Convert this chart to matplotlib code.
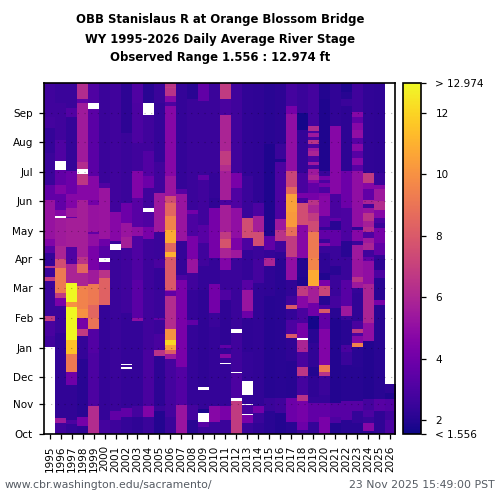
import numpy as np
import matplotlib
matplotlib.use('Agg')
import matplotlib.pyplot as plt

nan = np.nan

years = list(range(1995, 2027))
month_labels = ['Oct', 'Nov', 'Dec', 'Jan', 'Feb', 'Mar', 'Apr', 'May', 'Jun', 'Jul', 'Aug', 'Sep']
month_days = [0, 31, 59, 90, 121, 152, 182, 212, 243, 273, 304, 335]
vmin = 1.556
vmax = 12.974

# Stage by water year: day edges run from the top of the column (366) to Oct 1 (0)
d1995 = [366,331,319,293,260,244,203,196,189,175,173,164,160,123,118,102,91,0]
v1995 = [2.7,2.8,2.4,2.5,3.6,5.2,4.5,3.3,2.4,6.5,2.5,6.8,2.5,6.8,2.9,2.7,nan]
d1996 = [366,345,307,285,275,260,250,234,227,225,196,182,173,147,142,133,105,17,11,0]
v1996 = [2.5,2.7,3.1,nan,3.6,4.5,3.6,4.7,nan,5.5,5.9,7.5,9.2,6.8,4.3,2.5,2.3,5.4,2.7]
d1997 = [366,340,331,274,250,244,236,226,225,195,177,157,138,132,98,83,65,51,15,10,0]
v1997 = [2.5,3.2,2.4,3.9,4.7,4.5,5.4,3.6,5.7,3.1,5.9,13.0,10.0,13.0,11.5,9.2,4.0,2.3,3.0,2.4]
d1998 = [366,349,345,284,276,271,260,244,185,177,168,154,130,121,109,102,77.5,18,8,0]
v1998 = [6.2,3.6,5.5,6.2,nan,6.6,4.7,5.7,6.5,8.5,5.9,9.5,10.0,4.2,6.8,2.4,2.1,4.2,2.25]
d1999 = [366,345,339,269,244,239,211,209,196,171,156,135,121,110,84,29,0]
v1999 = [3.1,nan,3.4,4.7,4.1,5.2,3.6,5.0,4.3,5.5,9.2,8.5,9.0,3.2,3.0,6.2]
d2000 = [366,262,257,203,196,183.5,179,171,163,135,15,0]
v2000 = [2.5,3.1,5.3,3.9,3.3,nan,3.6,6.5,8.3,2.4,2.8]
d2001 = [366,232,201,198,192,24,15,0]
v2001 = [2.7,4.7,2.5,nan,2.5,3.6,2.6]
d2002 = [366,314,241,220,205,194,126,95,73,72,70,68,27,18,0]
v2002 = [2.2,2.5,3.9,5.3,5.7,2.7,2.4,2.4,nan,2.5,nan,2.4,3.6,2.4]
d2003 = [366,345,303,274,246,216.5,206,161,121,118.5,29,18,0]
v2003 = [3.1,3.0,2.7,4.5,3.3,5.0,3.1,3.4,5.0,2.4,2.8,2.25]
d2004 = [366,345,333,295,269,257,236,231.5,230.5,229.5,216.5,203,150.5,88,29,18,0]
v2004 = [2.1,nan,2.7,3.2,3.9,2.7,nan,2.9,nan,3.1,4.3,2.6,2.7,2.9,4.5,2.5]
d2005 = [366,345,284,251,211,182,173,150.5,121,119,103.5,88,81,29,24,0]
v2005 = [2.5,2.4,2.7,5.4,2.5,2.9,2.4,2.5,3.6,2.5,2.9,6.5,2.2,2.5,2.0]
d2006 = [366,362.5,361,352,346,342,269,248,241,227,213,199,190.5,185,150.5,149,144.5,110,98,93,88,83,77.5,18,0]
v2006 = [6.5,6.8,6.5,4.7,3.0,4.7,5.3,7.5,8.5,9.5,10.8,8.5,11.0,8.0,5.9,3.6,6.2,10.0,12.0,10.5,8.2,5.4,2.8,2.5]
d2007 = [366,255,249.5,201,166,161,70.5,30.5,0]
v2007 = [2.4,3.3,5.3,2.4,3.0,4.3,3.2,5.3]
d2008 = [366,349,234,229,206,182,168,150.5,119,114,30.5,15,0]
v2008 = [2.1,2.5,4.1,3.0,4.3,5.3,2.7,2.4,3.6,2.4,2.8,2.1]
d2009 = [366,347,270,265,218,199,175,150.5,49,46,26,22,12.5,7,0]
v2009 = [3.6,2.5,3.6,2.7,3.3,2.7,2.4,2.25,nan,2.4,1.8,nan,3.3,2.5]
d2010 = [366,272,246,236,183.5,156,126,112,29,13,0]
v2010 = [2.5,2.4,2.25,4.2,2.4,4.1,2.5,2.4,4.7,2.5]
d2011 = [366,349,333,295,281,274,244,239,211,203,194,183.5,171,150.5,140,93,90,83,79,74,73,29,15,0]
v2011 = [6.8,2.9,5.9,6.8,6.2,5.7,2.9,5.7,6.8,7.8,5.9,4.5,2.5,3.1,2.25,3.6,2.4,4.7,2.5,nan,2.4,4.3,2.5]
d2012 = [366,272,256.5,236,204.5,192,183.5,109,105,65,63.5,37.5,34,0]
v2012 = [2.7,4.3,3.1,5.0,4.4,5.4,2.5,nan,2.7,nan,3.0,nan,6.8]
d2013 = [366,269,225,204.5,192,161,150.5,128,121,86,55,41,31,30,21,20,11,0]
v2013 = [2.3,2.5,7.5,3.0,2.4,3.3,5.3,3.9,2.25,2.4,nan,2.4,nan,2.9,nan,4.3,2.5]
d2014 = [366,241,227,211,196,182,157.4,29,22,11,0]
v2014 = [2.25,3.0,5.7,7.5,2.5,2.8,2.3,4.1,2.5,2.3]
d2015 = [366,302,206,192,183.5,175,143.5,37.5,24,0]
v2015 = [2.1,1.9,3.6,2.4,5.9,2.25,2.05,2.5,2.1]
d2016 = [366,302,287,284,223.5,213,201,190.5,183.5,37.5,22,0]
v2016 = [2.2,2.5,1.9,3.0,5.4,6.5,2.7,2.25,2.1,2.7,2.0]
d2017 = [366,342,334,274,258,250,232,216.5,206,185,161,143.5,135,130,119,103.5,100,76,37.5,13,0]
v2017 = [2.8,4.2,5.0,7.2,8.6,10.5,10.3,8.8,6.8,5.0,2.3,2.7,8.0,2.4,3.0,8.0,2.25,2.05,3.9,2.1]
d2018 = [366,335,317,272,251,246,241,218,215,183.5,164,154,143.5,131,116,100,98,86,70.5,60,41,34,13,4,0]
v2018 = [2.5,1.7,2.4,2.9,4.3,2.9,7.5,4.7,4.7,2.0,1.9,6.8,4.7,2.9,4.2,nan,5.9,2.9,6.6,2.8,6.5,4.2,3.9,2.5]
d2019 = [366,321,316,314,310,307,302,298,295,290,284,281,276,270,265,262,251,244,239,230,222,211,192,183.5,171,154,137,123,109,95,70.5,60,39,32,13,0]
v2019 = [2.8,6.2,3.0,5.4,3.0,6.5,3.0,5.4,5.9,3.0,5.4,2.8,5.4,5.9,4.7,3.6,4.2,6.5,5.9,6.8,7.4,9.2,9.3,9.6,10.8,5.7,4.0,1.7,2.1,2.3,2.0,2.25,2.4,3.6,2.4]
d2020 = [366,349,274,269,265,262,258,251,248,227,216.5,213,203,199,196,189,168,161,154,143.5,135,130,126,109,72,65,60,41,32,18,0]
v2020 = [2.0,1.9,2.5,4.2,3.0,4.2,3.0,4.5,4.7,3.3,2.4,3.6,2.5,4.7,2.5,2.25,1.95,4.3,7.2,2.05,3.0,8.0,3.6,4.5,9.2,6.5,2.5,2.4,3.6,4.3]
d2021 = [366,321,250,225,222,213,196,175,166,143.5,131,121,98,32,18,11,0]
v2021 = [2.3,4.7,2.9,3.6,2.1,3.6,2.5,2.1,2.5,2.8,2.1,1.95,2.0,3.3,3.0,2.0]
d2022 = [366,357,349,342,274,236,201,185,161,133,123,119,93,86,72,34,15,0]
v2022 = [1.9,2.05,2.5,2.2,3.9,3.0,2.1,2.5,3.3,5.4,2.5,2.1,2.9,2.5,2.05,3.3,2.1]
d2023 = [366,336,331,324,317,309,302,295,288,281,274,216.5,213,201,197,182,164,159,152,147,117.5,109,105,102,95,91,70.5,34,24,11,0]
v2023 = [2.7,4.7,3.6,4.7,5.0,3.3,4.7,3.3,4.7,3.3,5.0,2.3,4.7,2.5,5.4,5.3,6.5,5.4,2.4,2.3,2.9,6.8,3.0,4.7,9.5,2.1,2.05,3.3,2.4,2.1]
d2024 = [366,272,262,255,244,240,236,230,222,216.5,211,204.5,199,192,185,180,156,116,97,36,25,18,11,3,0]
v2024 = [2.3,6.8,4.7,3.6,5.9,2.7,5.2,6.5,5.7,6.2,3.1,5.4,5.9,2.7,3.6,5.0,5.9,5.0,2.0,2.8,3.0,2.5,4.7,2.2]
d2025 = [366,272,260,255,243,234,225,220,215,199,187,182,171,163,140,135,36,24,0]
v2025 = [2.25,2.5,4.7,5.4,6.2,4.7,3.0,2.5,4.2,3.6,2.4,2.2,3.0,2.1,4.3,2.1,3.3,2.25]
d2026 = [366,52,43,36,24,15,0]
v2026 = [nan,2.25,1.95,3.2,2.7,3.0]

all_days = [d1995,d1996,d1997,d1998,d1999,d2000,d2001,d2002,d2003,d2004,d2005,d2006,d2007,d2008,d2009,d2010,
            d2011,d2012,d2013,d2014,d2015,d2016,d2017,d2018,d2019,d2020,d2021,d2022,d2023,d2024,d2025,d2026]
all_vals = [v1995,v1996,v1997,v1998,v1999,v2000,v2001,v2002,v2003,v2004,v2005,v2006,v2007,v2008,v2009,v2010,
            v2011,v2012,v2013,v2014,v2015,v2016,v2017,v2018,v2019,v2020,v2021,v2022,v2023,v2024,v2025,v2026]

grid = np.full((366, len(years)), nan)
for col in range(len(years)):
    d = all_days[col]
    v = all_vals[col]
    assert len(d) == len(v)+1, years[col]
    for k in range(len(v)):
        grid[int(round(d[k+1])):int(round(d[k])), col] = v[k]

cmap = plt.get_cmap('plasma').copy()
cmap.set_bad('white')

fig = plt.figure(figsize=(5, 5), dpi=100)
ax = fig.add_axes([44.2/500, 1-434/500, 351.2/500, 351/500])
im = ax.imshow(grid, origin='lower', aspect='auto', cmap=cmap, vmin=vmin, vmax=vmax,
               extent=[0, len(years), 0, 366], interpolation='nearest')

ax.set_xticks(np.arange(len(years))+0.5)
ax.set_xticklabels(years, rotation=90, fontsize=7.5)
ax.set_yticks(month_days)
ax.set_yticklabels(month_labels, fontsize=7.5)
ax.tick_params(axis='y', length=3.6, width=0.9, pad=4.5)
ax.tick_params(axis='x', length=3.6, width=0.9, pad=4.5)
ax.grid(True, axis='y', color='k', alpha=0.3, lw=0.8, ls=(0, (1, 5)))
for s in ax.spines.values():
    s.set_linewidth(1.2)

title_lines = ['OBB Stanislaus R at Orange Blossom Bridge',
               'WY 1995-2026 Daily Average River Stage',
               'Observed Range 1.556 : 12.974 ft']
for line, y in zip(title_lines, [20, 39, 58]):
    fig.text(220/500, 1-y/500, line, ha='center', va='center', fontsize=8.33, fontweight='bold')

cax = fig.add_axes([403.3/500, 1-434/500, 18/500, 351/500])
cb = fig.colorbar(im, cax=cax, ticks=[vmin, 2, 4, 6, 8, 10, 12, vmax])
cb.ax.set_yticklabels(['< 1.556', '2', '4', '6', '8', '10', '12', '> 12.974'], fontsize=7.5)
cb.ax.tick_params(length=3.6, width=0.9, pad=6.5)
cb.outline.set_linewidth(1.2)

fig.text(5/500, 1-485/500, 'www.cbr.washington.edu/sacramento/', color='#555b63', fontsize=7.85, ha='left', va='center')
fig.text(495/500, 1-485/500, '23 Nov 2025 15:49:00 PST', color='#555b63', fontsize=7.85, ha='right', va='center')

plt.savefig('out.png', dpi=100)
